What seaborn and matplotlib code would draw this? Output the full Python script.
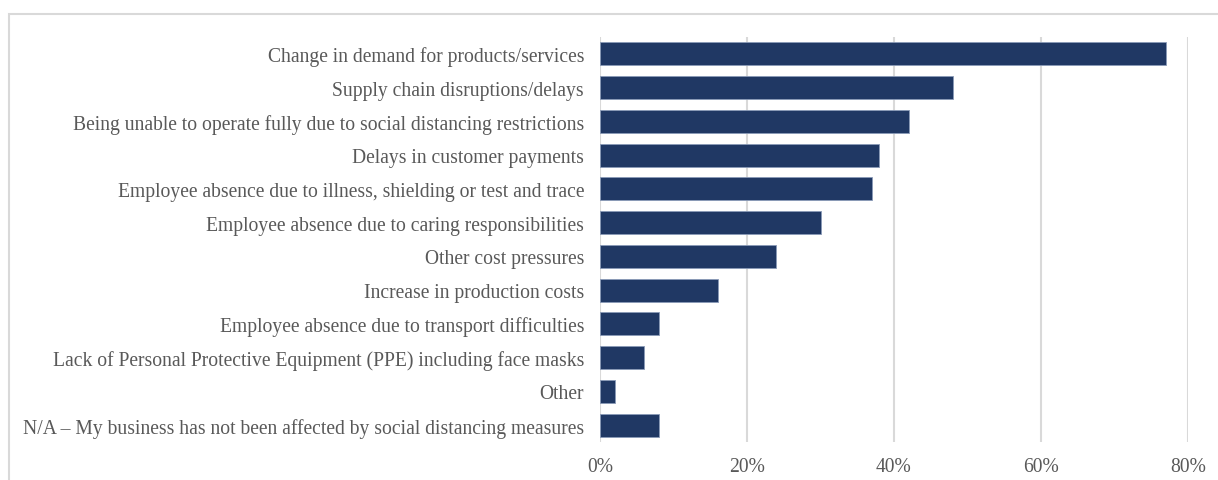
import matplotlib
matplotlib.use("Agg")
import matplotlib.pyplot as plt
import seaborn as sns
import pandas as pd
from matplotlib.patches import Rectangle
from matplotlib.ticker import FuncFormatter

categories = [
    "Change in demand for products/services",
    "Supply chain disruptions/delays",
    "Being unable to operate fully due to social distancing restrictions",
    "Delays in customer payments",
    "Employee absence due to illness, shielding or test and trace",
    "Employee absence due to caring responsibilities",
    "Other cost pressures",
    "Increase in production costs",
    "Employee absence due to transport difficulties",
    "Lack of Personal Protective Equipment (PPE) including face masks",
    "Other",
    "N/A \u2013 My business has not been affected by social distancing measures",
]
values = [77, 48, 42, 38, 37, 30, 24, 16, 8, 6, 2, 8]
x_ticks = [0, 20, 40, 60, 80]

df = pd.DataFrame({"category": categories, "value": values})

sns.set_theme(style="white")
plt.rcParams["font.family"] = ["Liberation Serif", "DejaVu Serif"]

W, H = 1218, 481
fig = plt.figure(figsize=(W / 100, H / 100), dpi=100)
ax = fig.add_axes([600 / W, 1 - 443 / H, (1188 - 600) / W, (443 - 38) / H])

sns.barplot(data=df, x="value", y="category", orient="h", color="#203864",
            saturation=1, width=0.68, edgecolor="#8a9ab8", linewidth=0.6, ax=ax, zorder=3)

ax.set_xlim(0, 80)
ax.set_ylim(11.5, -0.5)
ax.set_xticks(x_ticks)
ax.xaxis.set_major_formatter(FuncFormatter(lambda v, p: f"{v:.0f}%"))
ax.grid(axis="x", color="#d9d9d9", linewidth=1.5, zorder=0)
ax.grid(axis="y", visible=False)
for s in ax.spines.values():
    s.set_visible(False)
ax.set_xlabel("")
ax.set_ylabel("")
ax.tick_params(axis="both", length=0, labelsize=14.1, colors="#595959")
ax.tick_params(axis="y", pad=11.5)
ax.tick_params(axis="x", pad=11)

# chart frame
fig.patches.append(Rectangle((8.5 / W, -0.1), 1.2, 1 - 14.5 / H + 0.1, transform=fig.transFigure,
                             fill=False, edgecolor="#d9d9d9", linewidth=1.5, zorder=0))

fig.savefig("out.png", dpi=100)
